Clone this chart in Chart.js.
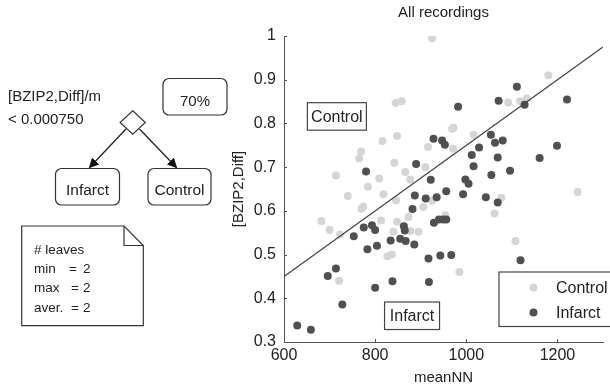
<!DOCTYPE html>
<html><head><meta charset="utf-8">
<script src="https://cdn.jsdelivr.net/npm/chart.js@4/dist/chart.umd.min.js"></script>
<style>
html,body{margin:0;padding:0;background:#fff;}
#wrap{position:relative;width:610px;height:385px;overflow:hidden;background:#fff;}
#c{position:absolute;left:0;top:0;}
#tree{position:absolute;left:0;top:0;}
</style></head><body>
<div id="wrap">
<canvas id="c" width="610" height="385"></canvas>
<svg id="tree" width="230" height="385" xmlns="http://www.w3.org/2000/svg" font-family="Liberation Sans, Arial, sans-serif" fill="#222">
<defs><marker id="ah" viewBox="0 0 10 10" refX="9" refY="5" markerWidth="10" markerHeight="10" markerUnits="userSpaceOnUse" orient="auto"><path d="M0,0 L10,5 L0,10 z" fill="#111"/></marker></defs>
<text x="8" y="100.5" font-size="15">[BZIP2,Diff]/m</text>
<text x="8" y="123.5" font-size="15">&lt; 0.000750</text>
<rect x="163" y="78.5" width="64" height="36.5" rx="6" fill="none" stroke="#333" stroke-width="1.2"/>
<text x="195" y="105.5" font-size="15" text-anchor="middle">70%</text>
<polygon points="132.7,110.7 145.3,122.5 132.7,134.3 120.1,122.5" fill="#fff" stroke="#333" stroke-width="1.2"/>
<line x1="126" y1="129" x2="89.5" y2="167.5" stroke="#222" stroke-width="1.3" marker-end="url(#ah)"/>
<line x1="139.5" y1="129" x2="176.5" y2="167.5" stroke="#222" stroke-width="1.3" marker-end="url(#ah)"/>
<rect x="55.5" y="168.5" width="64" height="36.5" rx="6" fill="none" stroke="#333" stroke-width="1.2"/>
<text x="87.5" y="194.5" font-size="15.5" text-anchor="middle">Infarct</text>
<rect x="148" y="168.5" width="63" height="36.5" rx="6" fill="none" stroke="#333" stroke-width="1.2"/>
<text x="179.5" y="194.5" font-size="15.5" text-anchor="middle">Control</text>
<path d="M21.7,226 H124 L143.3,245.5 V325.7 H21.7 Z" fill="none" stroke="#333" stroke-width="1.2"/>
<path d="M124,226 V245.5 H143.3" fill="none" stroke="#333" stroke-width="1.2"/>
<g font-size="13.5">
<text x="34" y="254"># leaves</text>
<text x="34" y="273.3">min</text><text x="69" y="273.3">=</text><text x="83" y="273.3">2</text>
<text x="34" y="292.3">max</text><text x="71" y="292.3">=</text><text x="83" y="292.3">2</text>
<text x="34" y="311.7">aver.</text><text x="71" y="311.7">=</text><text x="83" y="311.7">2</text>
</g>
</svg>
</div>
<script>
// ---- data ----
const controlX = [925,1180,845,858,1092,1118,1133,969,972,1016,971,916,848,816,769,765,842,714,809,866,910,877,784,740,818,846,774,770,813,682,700,840,723,848,873,906,925,954,877,895,721,827,837,985,1244,1077,1062,1108];
const controlY = [0.994,0.910,0.847,0.851,0.848,0.851,0.857,0.788,0.790,0.774,0.742,0.746,0.771,0.760,0.736,0.720,0.710,0.681,0.674,0.689,0.700,0.672,0.655,0.634,0.638,0.624,0.610,0.605,0.578,0.577,0.556,0.552,0.546,0.575,0.586,0.609,0.623,0.590,0.554,0.552,0.440,0.496,0.500,0.460,0.643,0.630,0.594,0.531];
const infarctX = [629,659,696,714,728,753,780,775,783,793,800,804,800,834,838,855,863,865,867,882,886,890,887,911,917,918,922,928,935,929,940,947,943,949,956,953,956,967,982,993,998,1005,1012,1016,1028,1043,1054,1055,1063,1069,1069,1071,1080,1096,1111,1119,1128,1161,1199,1221];
const infarctY = [0.338,0.328,0.451,0.468,0.386,0.542,0.690,0.562,0.512,0.567,0.556,0.520,0.424,0.532,0.439,0.536,0.565,0.555,0.531,0.604,0.523,0.707,0.635,0.628,0.491,0.437,0.671,0.765,0.631,0.573,0.580,0.761,0.498,0.580,0.580,0.751,0.645,0.499,0.838,0.638,0.672,0.662,0.728,0.702,0.745,0.631,0.774,0.682,0.756,0.722,0.619,0.852,0.761,0.692,0.884,0.487,0.843,0.721,0.749,0.855];
const boundaryX = [600, 1300];
const boundaryY = [0.45, 0.975];
const xTicks = [600, 800, 1000, 1200];
const yTicks = [0.3, 0.4, 0.5, 0.6, 0.7, 0.8, 0.9, 1];
const yTickLabels = ['0.3','0.4','0.5','0.6','0.7','0.8','0.9','1'];
const seriesNames = ['Control', 'Infarct'];
const chartTitle = 'All recordings';

// ---- styling ----
const FONT = '"Liberation Sans", Arial, Helvetica, sans-serif';
const LIGHT = '#d5d5d5', DARK = '#505050', AXIS = '#555', TXT = '#222';
Chart.defaults.font.family = FONT;
Chart.defaults.color = TXT;

const pts = (xs, ys) => xs.map((x, i) => ({x: x, y: ys[i]}));

const decor = {
  id: 'decor',
  afterDraw(chart) {
    const ctx = chart.ctx, a = chart.chartArea;
    const xs = chart.scales.x, ys = chart.scales.y;
    ctx.save();
    // inward ticks
    ctx.strokeStyle = AXIS; ctx.lineWidth = 1;
    ctx.beginPath();
    xTicks.forEach(v => { const px = Math.round(xs.getPixelForValue(v)) + 0.5; ctx.moveTo(px, a.bottom); ctx.lineTo(px, a.bottom - 3); });
    yTicks.forEach(v => { const py = Math.round(ys.getPixelForValue(v)) + 0.5; ctx.moveTo(a.left, py); ctx.lineTo(a.left + 3, py); });
    ctx.stroke();
    // title
    ctx.fillStyle = TXT; ctx.font = '15px ' + FONT; ctx.textAlign = 'center'; ctx.textBaseline = 'middle';
    ctx.fillText(chartTitle, (a.left + a.right) / 2, 13);
    // region labels
    const box = (label, vx, vy, w, h) => {
      const cx = xs.getPixelForValue(vx), cy = ys.getPixelForValue(vy);
      ctx.fillStyle = '#fff'; ctx.fillRect(cx - w / 2, cy - h / 2, w, h);
      ctx.strokeStyle = '#444'; ctx.lineWidth = 1.2; ctx.strokeRect(cx - w / 2, cy - h / 2, w, h);
      ctx.fillStyle = TXT; ctx.font = '16px ' + FONT; ctx.textAlign = 'center'; ctx.textBaseline = 'middle';
      ctx.fillText(label, cx, cy + 1);
    };
    box(seriesNames[0], 716, 0.816, 59, 27.5);
    box(seriesNames[1], 881, 0.360, 55, 27.5);
    // legend
    const lx = a.right - 104, ly = a.bottom - 70, lw = 115, lh = 54.5;
    ctx.fillStyle = '#fff'; ctx.fillRect(lx, ly, lw, lh);
    ctx.strokeStyle = '#444'; ctx.lineWidth = 1.2; ctx.strokeRect(lx, ly, lw, lh);
    const items = [[seriesNames[0], LIGHT], [seriesNames[1], DARK]];
    items.forEach((it, i) => {
      const y = ly + 15.5 + i * 25;
      ctx.fillStyle = it[1]; ctx.beginPath(); ctx.arc(lx + 34.5, y, 4, 0, Math.PI * 2); ctx.fill();
      ctx.fillStyle = TXT; ctx.font = '16px ' + FONT; ctx.textAlign = 'left'; ctx.textBaseline = 'middle';
      ctx.fillText(it[0], lx + 57, y + 1);
    });
    ctx.restore();
  }
};

new Chart(document.getElementById('c'), {
  type: 'scatter',
  data: {
    datasets: [
      { label: 'boundary', type: 'line', data: pts(boundaryX, boundaryY), borderColor: '#444', borderWidth: 1.3, pointRadius: 0, fill: false, order: 0 },
      { label: seriesNames[1], data: pts(infarctX, infarctY), backgroundColor: DARK, borderWidth: 0, pointRadius: 4, order: 1 },
      { label: seriesNames[0], data: pts(controlX, controlY), backgroundColor: LIGHT, borderWidth: 0, pointRadius: 4, order: 2 }
    ]
  },
  options: {
    responsive: false, animation: false, devicePixelRatio: 1,
    layout: { padding: { left: 230, right: 7, top: 36, bottom: 0 } },
    plugins: { legend: { display: false }, tooltip: { enabled: false }, title: { display: false } },
    scales: {
      x: {
        type: 'linear', min: 600, max: 1300,
        afterBuildTicks: s => { s.ticks = xTicks.map(v => ({value: v})); },
        afterFit: s => { s.height = 43; },
        grid: { display: true, drawOnChartArea: false, drawTicks: false },
        border: { display: true, color: AXIS, width: 1 },
        ticks: { padding: 4, font: { size: 16 }, color: TXT, maxRotation: 0, callback: v => String(v) },
        title: { display: true, text: 'meanNN', font: { size: 15 }, color: TXT, padding: { top: 0, bottom: -2 } }
      },
      y: {
        type: 'linear', min: 0.3, max: 1,
        afterBuildTicks: s => { s.ticks = yTicks.map(v => ({value: v})); },
        afterFit: s => { s.width = 54; },
        grid: { display: true, drawOnChartArea: false, drawTicks: false },
        border: { display: true, color: AXIS, width: 1 },
        ticks: { padding: 8, font: { size: 16 }, color: TXT, callback: (v, i) => yTickLabels[i] },
        title: { display: true, text: '[BZIP2,Diff]', font: { size: 15 }, color: TXT, padding: 0 }
      }
    }
  },
  plugins: [decor]
});
</script>
</body></html>
